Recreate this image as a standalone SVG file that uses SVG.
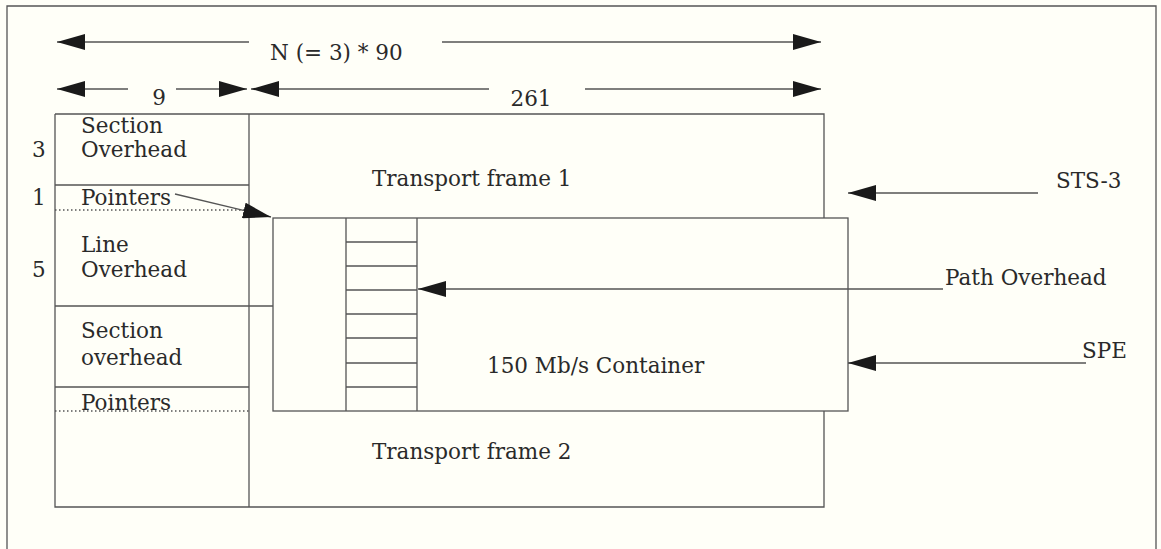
<svg xmlns="http://www.w3.org/2000/svg" width="1161" height="549" viewBox="0 0 1161 549">
<defs>
<style>
.ln{fill:none;stroke:#555;stroke-width:1.3}
.dot{fill:none;stroke:#555;stroke-width:1.3;stroke-dasharray:1.5 2.5}
.ar{fill:none;stroke:#555;stroke-width:1.3}
text{font-family:"DejaVu Serif","Liberation Serif",serif;font-size:21.5px;fill:#2a2a2a}
</style>
<marker id="ah" viewBox="0 0 28 16" refX="28" refY="8" markerWidth="28" markerHeight="16" markerUnits="userSpaceOnUse" orient="auto">
<path d="M0,0 L28,8 L0,16 Z" fill="#1a1a1a"/>
</marker>
</defs>
<rect width="1161" height="549" fill="#fffff8"/>
<path class="ln" d="M7,549 V6 H1156 V549"/>
<g id="main-frame">
<path class="ln" d="M55,114 H824 V218 M824,411 V507 H55 V114"/>
<path class="ln" d="M249,114 V507"/>
</g>
<g id="section-overhead-1">
<path class="ln" d="M55,185 H249"/>
<text x="81" y="133">Section</text>
<text x="81" y="157">Overhead</text>
<text x="32" y="157">3</text>
</g>
<g id="pointers-1">
<path class="dot" d="M55,210 H249"/>
<text x="81" y="205">Pointers</text>
<text x="32" y="205">1</text>
</g>
<g id="line-overhead">
<path class="ln" d="M55,306 H273"/>
<text x="81" y="252">Line</text>
<text x="81" y="277">Overhead</text>
<text x="32" y="277">5</text>
</g>
<g id="section-overhead-2">
<path class="ln" d="M55,387 H249"/>
<text x="81" y="338">Section</text>
<text x="81" y="365">overhead</text>
</g>
<g id="pointers-2">
<path class="dot" d="M55,411 H249"/>
<text x="81" y="410">Pointers</text>
</g>
<g id="transport-frame-1">
<text x="372" y="186">Transport frame 1</text>
</g>
<g id="transport-frame-2">
<text x="372" y="459">Transport frame 2</text>
</g>
<g id="spe">
<rect class="ln" x="273" y="218" width="575" height="193"/>
<path class="ln" d="M346,218 V411 M417,218 V411 M346,242 H417 M346,266 H417 M346,290 H417 M346,314 H417 M346,338 H417 M346,363 H417 M346,387 H417"/>
<text x="487" y="373">150 Mb/s Container</text>
</g>
<g id="labels">
<text x="270" y="60">N (= 3) * 90</text>
<text x="159" y="105" text-anchor="middle">9</text>
<text x="531" y="106" text-anchor="middle">261</text>
<text x="1056" y="188">STS-3</text>
<text x="945" y="285">Path Overhead</text>
<text x="1082" y="358">SPE</text>
</g>
<g id="connectors">
<path class="ar" d="M249,42 H57" marker-end="url(#ah)"/>
<path class="ar" d="M442,42 H821" marker-end="url(#ah)"/>
<path class="ar" d="M128,89 H57" marker-end="url(#ah)"/>
<path class="ar" d="M176,89 H247" marker-end="url(#ah)"/>
<path class="ar" d="M489,89 H251" marker-end="url(#ah)"/>
<path class="ar" d="M585,89 H821" marker-end="url(#ah)"/>
<path class="ar" d="M175,194 L271,217" marker-end="url(#ah)"/>
<path class="ar" d="M943,289 H418" marker-end="url(#ah)"/>
<path class="ar" d="M1038,193 H848" marker-end="url(#ah)"/>
<path class="ar" d="M1086,363 H848" marker-end="url(#ah)"/>
</g>
</svg>
